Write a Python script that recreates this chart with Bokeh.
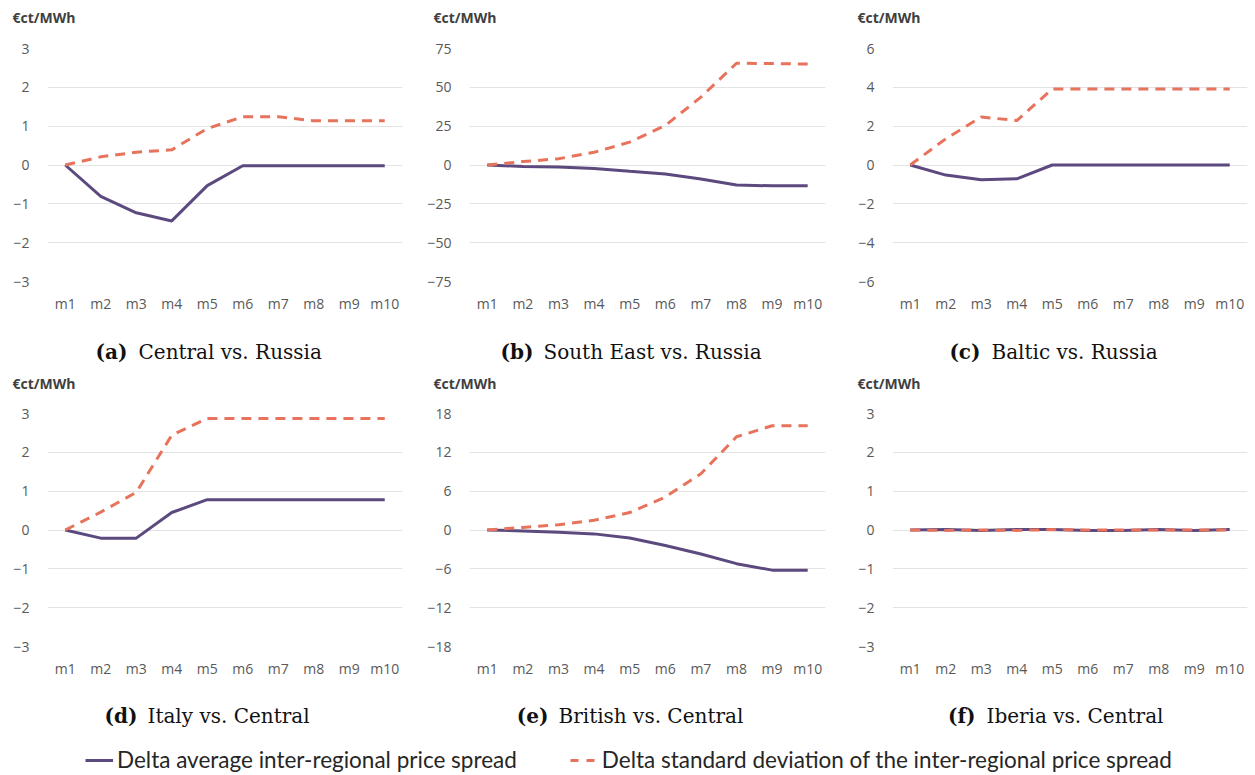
from bokeh.plotting import figure
from bokeh.models import FactorRange, Range1d, FixedTicker, Label, Legend, LegendItem
from bokeh.layouts import row, column
from bokeh.embed import file_html
from bokeh.resources import INLINE

months = ["m1", "m2", "m3", "m4", "m5", "m6", "m7", "m8", "m9", "m10"]

# delta average spread (solid) / delta std of spread (dashed), ct/MWh
central_avg = [0, -0.81, -1.23, -1.44, -0.53, -0.02, -0.02, -0.02, -0.02, -0.02]
central_std = [0, 0.21, 0.33, 0.39, 0.94, 1.24, 1.24, 1.14, 1.14, 1.14]
southeast_avg = [0, -0.9, -1.3, -2.2, -4.1, -5.8, -9.0, -12.9, -13.4, -13.4]
southeast_std = [0, 2.2, 4.0, 8.2, 14.7, 25.4, 43.7, 65.5, 65.3, 65.0]
baltic_avg = [0, -0.52, -0.76, -0.71, 0, 0, 0, 0, 0, 0]
baltic_std = [0, 1.35, 2.47, 2.29, 3.91, 3.91, 3.91, 3.91, 3.91, 3.91]
italy_avg = [0, -0.21, -0.21, 0.45, 0.78, 0.78, 0.78, 0.78, 0.78, 0.78]
italy_std = [0, 0.46, 0.97, 2.44, 2.87, 2.87, 2.87, 2.87, 2.87, 2.87]
british_avg = [0, -0.15, -0.36, -0.6, -1.25, -2.4, -3.7, -5.2, -6.2, -6.2]
british_std = [0, 0.4, 0.8, 1.5, 2.7, 5.1, 8.7, 14.4, 16.1, 16.1]
iberia_avg = [0, 0.01, -0.01, 0.01, 0.01, -0.01, -0.01, 0.01, -0.01, 0.01]
iberia_std = [0, -0.01, 0, -0.01, 0.01, 0, 0, 0, 0, 0]

ticks_3 = [-3, -2, -1, 0, 1, 2, 3]
ticks_75 = [-75, -50, -25, 0, 25, 50, 75]
ticks_6 = [-6, -4, -2, 0, 2, 4, 6]
ticks_18 = [-18, -12, -6, 0, 6, 12, 18]

unit_label = "€ct/MWh"
captions = [("(a)", "Central vs. Russia"), ("(b)", "South East vs. Russia"),
            ("(c)", "Baltic vs. Russia"), ("(d)", "Italy vs. Central"),
            ("(e)", "British vs. Central"), ("(f)", "Iberia vs. Central")]

legend_labels = ["Delta average inter-regional price spread",
                 "Delta standard deviation of the inter-regional price spread"]

PURPLE = "#5c4a7f"
CORAL = "#e8735c"
TICK_FONT = "Open Sans"
CAP_FONT = "DejaVu Serif"

panels = [
    (central_avg, central_std, ticks_3),
    (southeast_avg, southeast_std, ticks_75),
    (baltic_avg, baltic_std, ticks_6),
    (italy_avg, italy_std, ticks_3),
    (british_avg, british_std, ticks_18),
    (iberia_avg, iberia_std, ticks_3),
]

# per column: width, left border, right border, unit label x
col_sizes = [(421, 47, 19, 12), (413, 48, 9, 12), (421, 58, 8, 23)]
# caption: bold part right edge / text left edge, relative to the panel's left edge
cap_pos = [(127, 138), (112, 122), (146, 157), (137, 147), (127, 137), (141, 152)]


def make_panel(i, avg, std, ticks):
    w, lb, rb, _ = col_sizes[i % 3]
    p = figure(width=w, height=277, x_range=FactorRange(*months, range_padding=0),
               y_range=Range1d(ticks[0], ticks[-1]), toolbar_location=None,
               output_backend="svg", min_border_left=lb, min_border_right=rb,
               min_border_top=8, min_border_bottom=36)
    p.outline_line_color = None
    p.xgrid.grid_line_color = None
    p.ygrid.grid_line_color = "#e3e3e3"
    p.ygrid.grid_line_width = 1
    p.yaxis.ticker = FixedTicker(ticks=ticks)
    for ax in (p.xaxis, p.yaxis):
        ax.axis_line_color = None
        ax.major_tick_line_color = None
        ax.minor_tick_line_color = None
        ax.major_label_text_font = TICK_FONT
        ax.major_label_text_font_size = "14px"
        ax.major_label_text_color = "#595959"
    p.yaxis.major_label_standoff = 12
    p.xaxis.major_label_standoff = 6

    p.line(months, avg, line_color=PURPLE, line_width=3)
    p.line(months, std, line_color=CORAL, line_width=3, line_dash="10 7")
    return p


def make_strip(col, height, caption=None, cap_y=None, unit_y=None):
    """Blank strip holding a caption (below a panel) and/or a unit label (above one)."""
    w, _, _, ux = col_sizes[col]
    c = figure(width=w, height=height, toolbar_location=None, output_backend="svg",
               min_border=0, x_range=Range1d(0, 1), y_range=Range1d(0, 1))
    c.axis.visible = False
    c.grid.visible = False
    c.outline_line_color = None
    if caption is not None:
        bx, tx = cap_pos[caption]
        bold, rest = captions[caption]
        c.add_layout(Label(x=bx, y=cap_y, x_units="screen", y_units="screen", text=bold,
                           text_font=CAP_FONT, text_font_style="bold",
                           text_font_size="20px", text_align="right",
                           text_baseline="middle", text_color="#111111"))
        c.add_layout(Label(x=tx, y=cap_y, x_units="screen", y_units="screen", text=rest,
                           text_font=CAP_FONT, text_font_size="20px",
                           text_align="left", text_baseline="middle",
                           text_color="#111111"))
    if unit_y is not None:
        c.add_layout(Label(x=ux, y=unit_y, x_units="screen", y_units="screen",
                           text=unit_label, text_font=TICK_FONT, text_font_style="bold",
                           text_font_size="14px", text_align="left",
                           text_baseline="middle", text_color="#404040"))
    return c


figs = [make_panel(i, *panels[i]) for i in range(6)]
head = [make_strip(k, 40, unit_y=23) for k in range(3)]
mid = [make_strip(k, 88, caption=k, cap_y=54, unit_y=22) for k in range(3)]
foot = [make_strip(k, 48, caption=k + 3, cap_y=15) for k in range(3)]

# legend strip: sample lines sit outside the visible y range
leg = figure(width=1255, height=45, toolbar_location=None, output_backend="svg",
             min_border=0, x_range=FactorRange(*months), y_range=Range1d(100, 101))
leg.axis.visible = False
leg.grid.visible = False
leg.outline_line_color = None
r1 = leg.line(months, central_avg, line_color=PURPLE, line_width=3)
r2 = leg.line(months, central_std, line_color=CORAL, line_width=3, line_dash="8 8")
legend = Legend(items=[LegendItem(label=legend_labels[0], renderers=[r1]),
                       LegendItem(label=legend_labels[1], renderers=[r2])],
                orientation="horizontal", location=(85, 2), padding=0, margin=0,
                spacing=53, glyph_width=28, glyph_height=22, label_height=22,
                label_standoff=4, label_text_font="Lato", label_text_font_size="22.5px",
                label_text_color="#262626", border_line_color=None,
                background_fill_alpha=0)
leg.add_layout(legend, "center")

page = column(row(*head), row(*figs[:3]), row(*mid), row(*figs[3:]), row(*foot), leg)

open("out.html", "w").write(file_html(page, INLINE))
